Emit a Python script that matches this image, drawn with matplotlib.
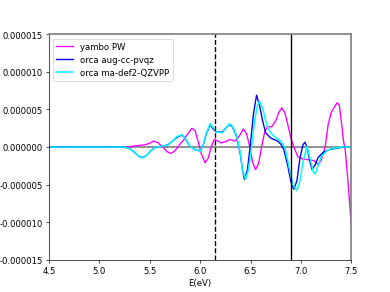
import numpy as np
import matplotlib
matplotlib.use('Agg')
from matplotlib import pyplot as plt
from matplotlib.ticker import FormatStrFormatter

# values (energy in eV, signal in units of 1e-6)
pw_e = [4.5, 5.2, 5.3, 5.38, 5.45, 5.50, 5.54, 5.58, 5.63, 5.67, 5.71, 5.75, 5.79,
        5.84, 5.88, 5.92, 5.95, 5.98, 6.01, 6.05, 6.08, 6.11, 6.14, 6.18, 6.21,
        6.25, 6.30, 6.35, 6.39, 6.43, 6.46, 6.49, 6.52, 6.55, 6.58, 6.61, 6.64,
        6.67, 6.71, 6.75, 6.78, 6.81, 6.84, 6.87, 6.90, 6.93, 6.97, 7.02, 7.08,
        7.13, 7.17, 7.20, 7.24, 7.27, 7.30, 7.33, 7.36, 7.38, 7.40, 7.42, 7.44,
        7.46, 7.48, 7.50]
pw_s = [0, 0, 0.05, 0.2, 0.3, 0.5, 0.8, 0.6, 0.0, -0.6, -0.85, -0.5, 0.2,
        1.0, 1.8, 2.5, 2.2, 0.8, -0.8, -2.1, -1.5, 0.0, 1.0, 0.8, 0.55,
        0.7, 1.0, 0.8, 1.5, 2.4, 1.8, 0.2, -2.0, -3.0, -2.2, 0.0, 2.0,
        2.7, 2.7, 3.5, 4.6, 5.2, 4.6, 3.0, 1.2, 0.0, -1.3, -1.6, -1.7,
        -1.8, -2.3, -1.8, 0.0, 3.0, 4.6, 5.3, 5.9, 5.6, 3.5, 1.0, -0.5,
        -3.5, -7.0, -10.5]

pvqz_e = [4.5, 5.25, 5.30, 5.35, 5.40, 5.43, 5.47, 5.51, 5.56, 5.62, 5.68, 5.73,
          5.77, 5.82, 5.85, 5.90, 5.95, 6.00, 6.03, 6.06, 6.10, 6.13, 6.16, 6.22,
          6.26, 6.29, 6.32, 6.36, 6.40, 6.42, 6.44, 6.47, 6.50, 6.53, 6.56, 6.59,
          6.62, 6.65, 6.70, 6.77, 6.80, 6.83, 6.87, 6.90, 6.93, 6.96, 6.99, 7.02,
          7.04, 7.06, 7.09, 7.11, 7.14, 7.17, 7.22, 7.29, 7.40, 7.50]
pvqz_s = [0, 0, -0.2, -0.7, -1.3, -1.4, -1.1, -0.5, 0.0, 0.1, 0.3, 0.8,
          1.3, 1.6, 1.2, 0.1, -0.35, -0.5, 0.2, 1.7, 3.0, 2.4, 2.0, 2.0,
          2.6, 3.0, 2.7, 1.5, -1.0, -3.0, -4.3, -3.0, 0.5, 4.5, 6.9, 5.5,
          3.5, 1.9, 1.2, 0.8, 0.4, -0.3, -2.5, -4.6, -5.6, -4.5, -1.5, 0.3,
          0.65, 0.0, -2.0, -3.0, -2.4, -1.4, -0.7, -0.3, -0.05, 0]

qzvpp_e = [4.5, 5.25, 5.30, 5.35, 5.40, 5.43, 5.47, 5.51, 5.56, 5.62, 5.68, 5.73,
           5.77, 5.82, 5.85, 5.90, 5.95, 6.00, 6.03, 6.06, 6.10, 6.13, 6.16, 6.22,
           6.26, 6.29, 6.32, 6.36, 6.40, 6.42, 6.45, 6.48, 6.51, 6.54, 6.57, 6.59,
           6.62, 6.65, 6.68, 6.72, 6.77, 6.80, 6.84, 6.88, 6.92, 6.96, 6.99, 7.02,
           7.06, 7.09, 7.12, 7.14, 7.17, 7.20, 7.25, 7.30, 7.40, 7.50]
qzvpp_s = [0, 0, -0.2, -0.7, -1.3, -1.45, -1.1, -0.5, 0.0, 0.1, 0.3, 0.8,
           1.4, 1.65, 1.2, 0.1, -0.35, -0.55, 0.2, 1.8, 3.1, 2.6, 2.0, 1.9,
           2.6, 3.1, 2.8, 1.6, -0.8, -3.0, -4.3, -3.0, 0.0, 3.5, 5.6, 6.1,
           5.2, 3.5, 2.3, 1.6, 1.1, 0.8, 0.0, -2.5, -5.0, -5.8, -4.5, -2.0,
           0.1, -1.5, -3.2, -3.6, -2.5, -1.3, -0.6, -0.2, 0, 0]

homo_lumo = 6.15
onset = 6.9

fig = plt.figure(figsize=(6.4, 4.8), dpi=61)
ax = fig.add_subplot(111)
ax.axhline(0, color='gray', lw=2, zorder=1)
ax.plot(pw_e, np.array(pw_s) * 1e-6, color='magenta', lw=1.6, label='yambo PW')
ax.plot(pvqz_e, np.array(pvqz_s) * 1e-6, color='blue', lw=1.6, label='orca aug-cc-pvqz')
ax.plot(qzvpp_e, np.array(qzvpp_s) * 1e-6, color='cyan', lw=1.8, label='orca ma-def2-QZVPP')
ax.axvline(homo_lumo, color='black', ls='--', lw=1.6)
ax.axvline(onset, color='black', lw=1.6)

ax.set_xlim(4.5, 7.5)
ax.set_ylim(-1.5e-5, 1.5e-5)
ax.set_yticks(np.arange(-1.5e-5, 1.6e-5, 5e-6))
ax.yaxis.set_major_formatter(FormatStrFormatter('%.6f'))
ax.set_xlabel('E(eV)')
for s in ['top', 'right']:
    ax.spines[s].set_color('gray')
    ax.spines[s].set_linewidth(2)
ax.legend(loc='upper left')

fig.savefig('out.png', dpi=61)
